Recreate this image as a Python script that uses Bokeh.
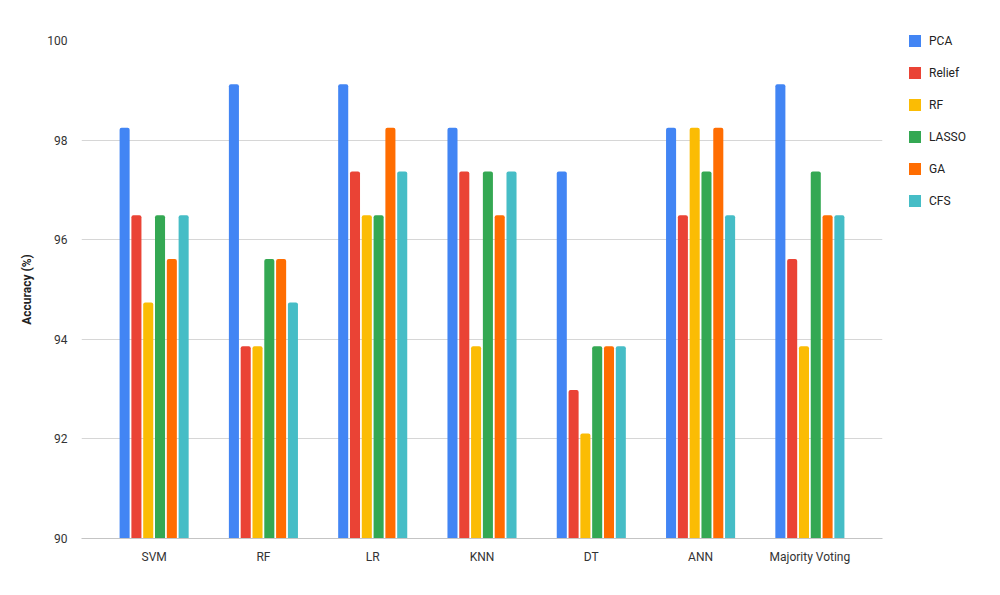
from bokeh.plotting import figure
from bokeh.models import ColumnDataSource, FactorRange, FixedTicker, Legend, LegendItem
from bokeh.transform import dodge
from bokeh.embed import file_html
from bokeh.resources import INLINE

classifiers = ["SVM", "RF", "LR", "KNN", "DT", "ANN", "Majority Voting"]
series_names = ["PCA", "Relief", "RF", "LASSO", "GA", "CFS"]
pca = [98.25, 99.12, 99.12, 98.25, 97.37, 98.25, 99.12]
relief = [96.49, 93.86, 97.37, 97.37, 92.98, 96.49, 95.61]
rf = [94.74, 93.86, 96.49, 93.86, 92.11, 98.25, 93.86]
lasso = [96.49, 95.61, 96.49, 97.37, 93.86, 97.37, 97.37]
ga = [95.61, 95.61, 98.25, 96.49, 93.86, 98.25, 96.49]
cfs = [96.49, 94.74, 97.37, 97.37, 93.86, 96.49, 96.49]
y_ticks = [90, 92, 94, 96, 98, 100]
colors = ["#4285F4", "#EA4335", "#FBBC04", "#34A853", "#FF6D01", "#46BDC6"]

series_values = [pca, relief, rf, lasso, ga, cfs]
keys = ["s%d" % i for i in range(len(series_names))]
data = {"cat": classifiers}
for k, v in zip(keys, series_values):
    data[k] = v
source = ColumnDataSource(data)

FONT = "Roboto"

p = figure(
    x_range=FactorRange(*classifiers, range_padding=0.047),
    y_range=(90, 100),
    frame_width=801, frame_height=498,
    min_border_left=81, min_border_top=40, min_border_right=115, min_border_bottom=10,
    output_backend="svg", toolbar_location=None,
    background_fill_color="white", border_fill_color="white",
    outline_line_color=None,
)

bar_w = 0.092
step = 0.108
items = []
for i, (k, name, c) in enumerate(zip(keys, series_names, colors)):
    off = (i - 2.5) * step
    r = p.vbar(x=dodge("cat", off, range=p.x_range), top=k, bottom=90, width=bar_w,
               source=source, fill_color=c, line_color=None, border_radius=(2, 2, 0, 0))
    items.append(LegendItem(label=name, renderers=[r]))

legend = Legend(items=items, location=(25, 330), orientation="vertical",
                glyph_width=15, glyph_height=15, label_height=15, spacing=17,
                label_standoff=7, padding=0, margin=0, border_line_color=None,
                background_fill_alpha=0, label_text_font=FONT, label_text_font_size="12px",
                label_text_color="#222222")
p.add_layout(legend, "right")

p.yaxis.ticker = FixedTicker(ticks=y_ticks)
p.ygrid.ticker = FixedTicker(ticks=y_ticks)
p.ygrid.grid_line_color = "#d6d6d6"
p.xgrid.grid_line_color = None
p.yaxis.axis_line_color = None
p.yaxis.major_tick_line_color = None
p.yaxis.minor_tick_line_color = None
p.yaxis.major_label_standoff = 8
p.yaxis.major_label_text_font = FONT
p.yaxis.major_label_text_font_size = "12px"
p.yaxis.major_label_text_color = "#333333"
p.yaxis.axis_label = "Accuracy (%)"
p.yaxis.axis_label_text_font = FONT
p.yaxis.axis_label_text_font_size = "12px"
p.yaxis.axis_label_text_font_style = "bold"
p.yaxis.axis_label_text_color = "#222222"
p.yaxis.axis_label_standoff = 10

p.xaxis.axis_line_color = "#c4c4c4"
p.xaxis.major_tick_line_color = None
p.xaxis.minor_tick_line_color = None
p.xaxis.major_label_standoff = 5
p.xaxis.major_label_text_font = FONT
p.xaxis.major_label_text_font_size = "12px"
p.xaxis.major_label_text_color = "#333333"

open("out.html", "w").write(file_html(p, INLINE))
